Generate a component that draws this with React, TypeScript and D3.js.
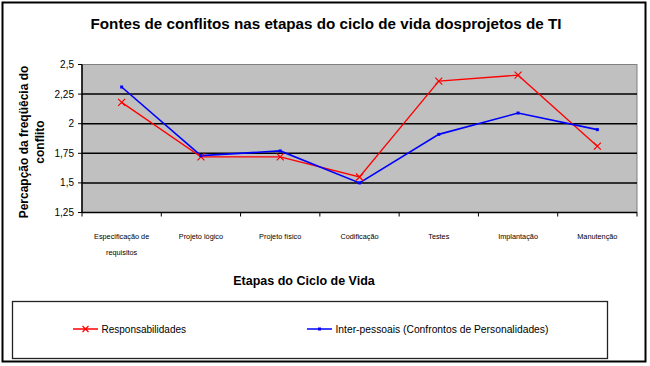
import * as React from "react";
import * as d3 from "d3";

const categories = [
  "Especificação de\nrequisitos",
  "Projeto lógico",
  "Projeto físico",
  "Codificação",
  "Testes",
  "Implantação",
  "Manutenção",
];
const responsabilidades = [2.18, 1.72, 1.72, 1.55, 2.36, 2.41, 1.81];
const interPessoais = [2.31, 1.73, 1.77, 1.5, 1.91, 2.09, 1.95];
const yTicks = [1.25, 1.5, 1.75, 2, 2.25, 2.5];

const FONT = "Arial, 'Liberation Sans', Helvetica, sans-serif";

export default function App() {
  const ref = React.useRef<HTMLDivElement | null>(null);

  React.useEffect(() => {
    const width = 650;
    const height = 366;
    const svg = d3
      .select(ref.current)
      .append("svg")
      .attr("width", width)
      .attr("height", height)
      .style("display", "block")
      .style("font-family", FONT);

    svg.append("rect").attr("width", width).attr("height", height).attr("fill", "white");

    // outer frame
    svg
      .append("rect")
      .attr("x", 2.5)
      .attr("y", 2.5)
      .attr("width", 643)
      .attr("height", 359)
      .attr("fill", "none")
      .attr("stroke", "black")
      .attr("stroke-width", 2);

    svg
      .append("text")
      .attr("x", 326)
      .attr("y", 29)
      .attr("text-anchor", "middle")
      .attr("font-weight", "bold")
      .attr("font-size", 15.2)
      .text("Fontes de conflitos nas etapas do ciclo de vida dosprojetos de TI");

    const x = d3.scaleBand<string>().domain(categories).range([82, 637]);
    const y = d3.scaleLinear().domain([1.25, 2.5]).range([212.5, 64.5]);

    // plot area
    svg
      .append("rect")
      .attr("x", x.range()[0])
      .attr("y", y(2.5))
      .attr("width", x.range()[1] - x.range()[0])
      .attr("height", y(1.25) - y(2.5))
      .attr("fill", "#c0c0c0")
      .attr("stroke", "#808080")
      .attr("stroke-width", 1);

    // gridlines
    svg
      .append("g")
      .selectAll("line")
      .data(yTicks.filter((d) => d > 1.25 && d < 2.5))
      .enter()
      .append("line")
      .attr("x1", x.range()[0])
      .attr("x2", x.range()[1])
      .attr("y1", (d) => y(d))
      .attr("y2", (d) => y(d))
      .attr("stroke", "black")
      .attr("stroke-width", 1.5);

    // y axis
    const yAxis = svg.append("g");
    yAxis
      .append("line")
      .attr("x1", 82)
      .attr("x2", 82)
      .attr("y1", y(2.5))
      .attr("y2", y(1.25))
      .attr("stroke", "black")
      .attr("stroke-width", 1.5);
    yAxis
      .selectAll("line.tick")
      .data(yTicks)
      .enter()
      .append("line")
      .attr("class", "tick")
      .attr("x1", 78)
      .attr("x2", 82)
      .attr("y1", (d) => y(d))
      .attr("y2", (d) => y(d))
      .attr("stroke", "black");
    yAxis
      .selectAll("text")
      .data(yTicks)
      .enter()
      .append("text")
      .attr("x", 74)
      .attr("y", (d) => y(d) + 3.5)
      .attr("text-anchor", "end")
      .attr("font-size", 10)
      .text((d) => String(d).replace(".", ","));

    // x axis
    const xAxis = svg.append("g");
    xAxis
      .append("line")
      .attr("x1", x.range()[0])
      .attr("x2", x.range()[1])
      .attr("y1", y(1.25))
      .attr("y2", y(1.25))
      .attr("stroke", "black")
      .attr("stroke-width", 1.5);
    xAxis
      .selectAll("line.tick")
      .data([...categories.map((c) => x(c) as number), x.range()[1]])
      .enter()
      .append("line")
      .attr("class", "tick")
      .attr("x1", (d) => d)
      .attr("x2", (d) => d)
      .attr("y1", y(1.25))
      .attr("y2", y(1.25) + 4)
      .attr("stroke", "black");
    const catText = xAxis
      .selectAll("text")
      .data(categories)
      .enter()
      .append("text")
      .attr("text-anchor", "middle")
      .attr("font-size", 7.3)
      .attr("x", (d) => (x(d) as number) + x.bandwidth() / 2)
      .attr("y", 238.5);
    catText
      .selectAll("tspan")
      .data((d) => d.split("\n").map((t) => ({ t, x: (x(d) as number) + x.bandwidth() / 2 })))
      .enter()
      .append("tspan")
      .attr("x", (d) => d.x)
      .attr("dy", (_d, i) => (i === 0 ? 0 : 16))
      .text((d) => d.t);

    svg
      .append("text")
      .attr("x", 304)
      .attr("y", 285)
      .attr("text-anchor", "middle")
      .attr("font-weight", "bold")
      .attr("font-size", 12.5)
      .text("Etapas do Ciclo de Vida");

    // y title
    const yTitle = svg
      .append("text")
      .attr("transform", "translate(28,142) rotate(-90)")
      .attr("text-anchor", "middle")
      .attr("font-weight", "bold")
      .attr("font-size", 12);
    yTitle.append("tspan").attr("x", 0).attr("dy", 0).text("Percapção da freqüêcia do");
    yTitle.append("tspan").attr("x", 0).attr("dy", 16).text("conflito");

    const cx = (i: number) => (x(categories[i]) as number) + x.bandwidth() / 2;
    const line = d3
      .line<number>()
      .x((_d, i) => cx(i))
      .y((d) => y(d));

    const plot = svg.append("g");
    plot
      .append("path")
      .datum(responsabilidades)
      .attr("d", line)
      .attr("fill", "none")
      .attr("stroke", "#ff0000")
      .attr("stroke-width", 1.3);
    plot
      .append("path")
      .datum(interPessoais)
      .attr("d", line)
      .attr("fill", "none")
      .attr("stroke", "#0000ff")
      .attr("stroke-width", 1.6);

    const cross = (px: number, py: number, s: number) =>
      `M${px - s},${py - s}L${px + s},${py + s}M${px - s},${py + s}L${px + s},${py - s}`;

    plot
      .selectAll("path.red-mark")
      .data(responsabilidades)
      .enter()
      .append("path")
      .attr("class", "red-mark")
      .attr("d", (d, i) => cross(cx(i), y(d), 3.5))
      .attr("stroke", "#ff0000")
      .attr("stroke-width", 1.2);
    plot
      .selectAll("rect.blue-mark")
      .data(interPessoais)
      .enter()
      .append("rect")
      .attr("class", "blue-mark")
      .attr("x", (_d, i) => cx(i) - 1.5)
      .attr("y", (d) => y(d) - 1.5)
      .attr("width", 3)
      .attr("height", 3)
      .attr("fill", "#0000ff");

    // legend
    const legend = svg.append("g");
    legend
      .append("rect")
      .attr("x", 12.5)
      .attr("y", 301.5)
      .attr("width", 595)
      .attr("height", 57)
      .attr("fill", "white")
      .attr("stroke", "#222")
      .attr("stroke-width", 1.3);
    const items = [
      { name: "Responsabilidades", color: "#ff0000", x0: 73, mark: "x", size: 10 },
      { name: "Inter-pessoais (Confrontos de Personalidades)", color: "#0000ff", x0: 307, mark: "s", size: 10.3 },
    ];
    items.forEach((it) => {
      const ly = 329;
      legend
        .append("line")
        .attr("x1", it.x0)
        .attr("x2", it.x0 + 25)
        .attr("y1", ly)
        .attr("y2", ly)
        .attr("stroke", it.color)
        .attr("stroke-width", 1.5);
      if (it.mark === "x") {
        legend
          .append("path")
          .attr("d", cross(it.x0 + 12.5, ly, 3))
          .attr("stroke", it.color)
          .attr("stroke-width", 1.2);
      } else {
        legend
          .append("rect")
          .attr("x", it.x0 + 11)
          .attr("y", ly - 1.5)
          .attr("width", 3)
          .attr("height", 3)
          .attr("fill", it.color);
      }
      legend
        .append("text")
        .attr("x", it.x0 + 28.5)
        .attr("y", ly + 3.5)
        .attr("font-size", it.size)
        .text(it.name);
    });

    return function cleanup() {
      // eslint-disable-next-line react-hooks/exhaustive-deps
      d3.select(ref.current).selectAll("svg").remove();
    };
  }, []);

  return (
    <div
      ref={ref}
      style={{ position: "absolute", left: 0, top: 0, width: 650, height: 366 }}
    ></div>
  );
}
